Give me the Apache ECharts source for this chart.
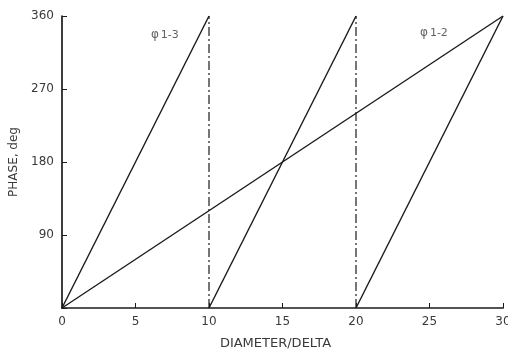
<!DOCTYPE html>
<html>
<head>
<meta charset="utf-8">
<script src="https://cdn.jsdelivr.net/npm/echarts@6/dist/echarts.min.js"></script>
<style>
  html, body { margin: 0; padding: 0; background: #fff; }
  #chart { width: 508px; height: 349px; }
</style>
</head>
<body>
<div id="chart"></div>
<script>
// Phase difference vs. diameter/delta
const xTicks = [0, 5, 10, 15, 20, 25, 30];
const yTicks = [0, 90, 180, 270, 360];

// phi 1-2: one ramp over the whole range
const phi12Points = [[0, 0], [30, 360]];

// phi 1-3: wraps every 10 units
const phi13Segments = [
  [[0, 0], [10, 360]],
  [[10, 0], [20, 360]],
  [[20, 0], [30, 360]]
];

// wrap positions drawn as dashed verticals
const wrapX = [10, 20];

const labels = [
  { name: 'phi13', x: 7.0, y: 340, sub: '1-3' },
  { name: 'phi12', x: 25.3, y: 342, sub: '1-2' }
];

const ink = '#1a1a1a';
const textColor = '#3a3a3a';
const font = 'DejaVu Sans';

const series = [];

series.push({
  type: 'line',
  data: phi12Points,
  symbol: 'none',
  lineStyle: { color: ink, width: 1.4 },
  silent: true
});

phi13Segments.forEach(seg => {
  series.push({
    type: 'line',
    data: seg,
    symbol: 'none',
    lineStyle: { color: ink, width: 1.4 },
    silent: true
  });
});

wrapX.forEach(x => {
  series.push({
    type: 'line',
    data: [[x, 0], [x, 360]],
    symbol: 'none',
    lineStyle: { color: ink, width: 1.2, type: [9, 3, 2, 3] },
    silent: true
  });
});

series.push({
  type: 'scatter',
  data: labels.map(l => [l.x, l.y]),
  symbolSize: 0,
  silent: true,
  label: {
    show: true,
    position: 'inside',
    formatter: p => '{phi|φ}{sub|' + labels[p.dataIndex].sub + '}',
    rich: {
      phi: { fontFamily: font, fontSize: 12, color: textColor, verticalAlign: 'bottom' },
      sub: { fontFamily: font, fontSize: 11, color: textColor, padding: [6, 0, 0, 2] }
    }
  }
});

const chart = echarts.init(document.getElementById('chart'), null, { renderer: 'canvas' });
chart.setOption({
  animation: false,
  backgroundColor: '#fff',
  grid: { left: 62, right: 5, top: 16, bottom: 41, containLabel: false, outerBoundsMode: 'none' },
  xAxis: {
    type: 'value',
    min: 0, max: 30, interval: 5,
    name: 'DIAMETER/DELTA',
    nameLocation: 'middle',
    nameGap: 29,
    nameTextStyle: { fontFamily: font, fontSize: 13, color: textColor, padding: [0, 14, 0, 0] },
    axisLine: { show: true, lineStyle: { color: ink, width: 1.7 } },
    axisTick: { show: true, inside: true, length: 5, lineStyle: { color: ink, width: 1 } },
    axisLabel: {
      fontFamily: font, fontSize: 12, color: textColor, margin: 8,
      formatter: v => xTicks.includes(v) ? String(v) : ''
    },
    splitLine: { show: false }
  },
  yAxis: {
    type: 'value',
    min: 0, max: 360, interval: 90,
    name: 'PHASE, deg',
    nameLocation: 'middle',
    nameGap: 42,
    nameTextStyle: { fontFamily: font, fontSize: 12, color: textColor },
    axisLine: { show: true, lineStyle: { color: ink, width: 1.7 } },
    axisTick: { show: true, inside: true, length: 5, lineStyle: { color: ink, width: 1 } },
    axisLabel: {
      fontFamily: font, fontSize: 12, color: textColor, margin: 8,
      formatter: v => (yTicks.includes(v) && v !== 0) ? String(v) : ''
    },
    splitLine: { show: false }
  },
  series: series
});
</script>
</body>
</html>
